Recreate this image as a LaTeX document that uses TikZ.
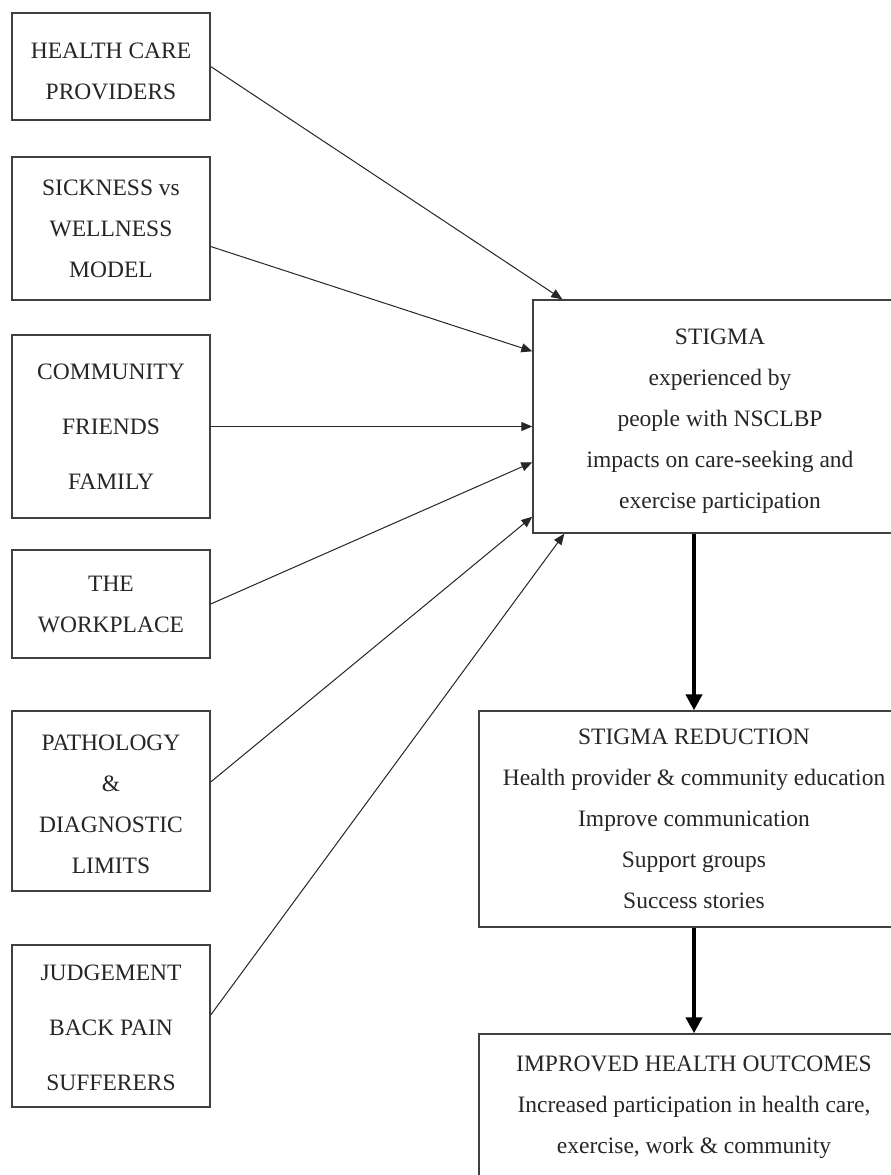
\documentclass[tikz,border=0pt]{standalone}
\usepackage{fontspec}
\setmainfont{Liberation Serif}
\usetikzlibrary{arrows.meta}
\begin{document}
\begin{tikzpicture}[x=1pt,y=-1pt,
  box/.style={draw=black!75, line width=1.4pt, align=center, inner sep=0pt,
    text=black!85, font=\fontsize{23.5}{41}\selectfont},
  leftbox/.style={box, minimum width=198pt},
  thinarrow/.style={draw=black!85, line width=1pt, -{Triangle[length=11pt,width=9pt]}},
  thickarrow/.style={draw=black, line width=4pt, -{Triangle[length=16pt,width=16pt]}}]
\useasboundingbox (0,0) rectangle (891,1175);
\fill[white] (0,0) rectangle (891,1175);
\clip (0,0) rectangle (891,1175);

% left column
\node[leftbox, minimum height=107pt] (hc) at (111,66.5) {\rule{0pt}{26pt}HEALTH CARE\\PROVIDERS};
\node[leftbox, minimum height=143pt] (sick) at (111,228.5) {SICKNESS vs\\WELLNESS\\MODEL};
\node[leftbox, minimum height=183pt] (comm) at (111,426.5) {COMMUNITY\\[14pt]FRIENDS\\[14pt]FAMILY};
\node[leftbox, minimum height=108pt] (work) at (111,604) {THE\\WORKPLACE};
\node[leftbox, minimum height=180pt] (path) at (111,801) {\rule{0pt}{21.5pt}PATHOLOGY\\\&\\DIAGNOSTIC\\LIMITS};
\node[leftbox, minimum height=162pt] (judg) at (111,1026) {\rule{0pt}{19.5pt}JUDGEMENT\\[14pt]BACK PAIN\\[14pt]SUFFERERS};

% right column
\node[box, minimum width=374pt, minimum height=233pt] (stigma) at (720,416.5)
  {\rule{0pt}{24pt}STIGMA\\experienced by\\people with NSCLBP\\impacts on care-seeking and\\exercise participation};
\node[box, minimum width=430pt, minimum height=216pt] (red) at (694,819)
  {STIGMA REDUCTION\\Health provider \& community education\\Improve communication\\Support groups\\Success stories};
\node[box, minimum width=430pt, minimum height=146pt] (imp) at (694,1107)
  {IMPROVED HEALTH OUTCOMES\\Increased participation in health care,\\exercise, work \& community};

% thin connectors
\draw[thinarrow] (hc.east) -- ([xshift=30pt]stigma.north west);
\draw[thinarrow] ([yshift=-18pt]sick.east) -- ([yshift=-52pt]stigma.north west);
\draw[thinarrow] (comm.east) -- (stigma.west |- comm.east);
\draw[thinarrow] (work.east) -- ([yshift=-163pt]stigma.north west);
\draw[thinarrow] ([yshift=19pt]path.east) -- ([yshift=17pt]stigma.south west);
\draw[thinarrow] ([yshift=11pt]judg.east) -- ([xshift=32pt]stigma.south west);

% thick connectors
\draw[thickarrow] (red.north |- stigma.south) -- (red.north);
\draw[thickarrow] (red.south) -- (imp.north);
\end{tikzpicture}
\end{document}
